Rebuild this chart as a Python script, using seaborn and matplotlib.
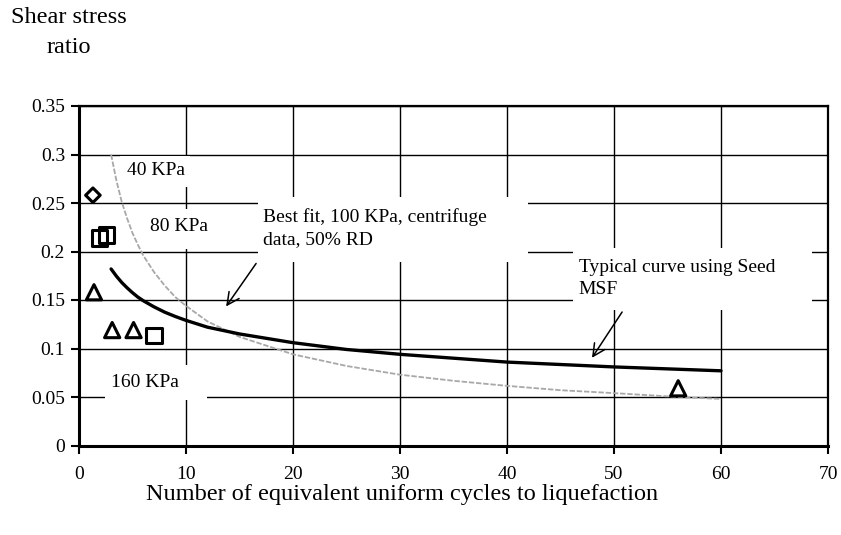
import matplotlib
matplotlib.use("Agg")
import matplotlib.pyplot as plt
from matplotlib.patches import Rectangle
import seaborn as sns
import pandas as pd

# ---- data ----
diamond_x = [1.3]
diamond_y = [0.258]
square_x = [1.9, 2.6, 7.0]
square_y = [0.214, 0.217, 0.113]
triangle_x = [1.4, 3.1, 5.1, 56.0]
triangle_y = [0.158, 0.119, 0.119, 0.059]

fit_x = [3.0, 3.5, 4, 4.5, 5, 5.5, 6, 7, 8, 9, 10, 12, 15, 20, 25, 30, 35, 40, 45, 50, 55, 60]
fit_y = [0.182, 0.1745, 0.168, 0.1625, 0.1575, 0.153, 0.1493, 0.143, 0.1375, 0.133, 0.129, 0.122,
         0.115, 0.106, 0.099, 0.094, 0.090, 0.086, 0.0835, 0.081, 0.079, 0.077]

seed_x = [3, 3.5, 4, 4.5, 5, 5.5, 6, 7, 8, 9, 10, 12, 15, 20, 25, 30, 35, 40, 45, 50, 56, 60]
seed_y = [0.300, 0.273, 0.251, 0.234, 0.219, 0.207, 0.196, 0.179, 0.165, 0.153, 0.144, 0.128,
          0.112, 0.094, 0.082, 0.073, 0.0667, 0.0615, 0.057, 0.054, 0.050, 0.048]

x_ticks = [0, 10, 20, 30, 40, 50, 60, 70]
y_ticks = [0, 0.05, 0.1, 0.15, 0.2, 0.25, 0.3, 0.35]
y_tick_labels = ["0", "0.05", "0.1", "0.15", "0.2", "0.25", "0.3", "0.35"]

sns.set_theme(style="ticks")
plt.rcParams["font.family"] = ["Liberation Serif", "DejaVu Serif"]

fig = plt.figure(figsize=(8.41, 5.35), dpi=100)
ax = fig.add_axes([79 / 841, 1 - 445.5 / 535, 749 / 841, 339.5 / 535])

fit_df = pd.DataFrame({"x": fit_x, "y": fit_y})
seed_df = pd.DataFrame({"x": seed_x, "y": seed_y})

sns.lineplot(data=seed_df, x="x", y="y", ax=ax, color="#a8a8a8", lw=1.3,
             linestyle=(0, (3, 1)), zorder=3)
sns.lineplot(data=fit_df, x="x", y="y", ax=ax, color="black", lw=2.4, zorder=4)

mk = dict(facecolor="none", edgecolor="black", linewidth=2.2, zorder=5)
sns.scatterplot(x=diamond_x, y=diamond_y, ax=ax, marker="D", s=55, **mk)
sns.scatterplot(x=square_x, y=square_y, ax=ax, marker="s", s=120, **mk)
sns.scatterplot(x=triangle_x, y=triangle_y, ax=ax, marker="^", s=120, **mk)

ax.set_xlim(0, 70)
ax.set_ylim(0, 0.35)
ax.set_xticks(x_ticks)
ax.set_xticklabels([str(t) for t in x_ticks])
ax.set_yticks(y_ticks)
ax.set_yticklabels(y_tick_labels)
ax.tick_params(axis="both", labelsize=14, direction="out", length=6, width=1.5,
               color="black", labelcolor="black")
ax.tick_params(axis="x", pad=9)
ax.tick_params(axis="y", pad=4)

ax.set_axisbelow(True)
ax.grid(True, color="black", linewidth=1.0)
for side in ["left", "bottom"]:
    ax.spines[side].set_linewidth(2.2)
    ax.spines[side].set_color("black")
for side in ["top", "right"]:
    ax.spines[side].set_linewidth(1.6)
    ax.spines[side].set_color("black")
    ax.spines[side].set_visible(True)

ax.set_xlabel("Number of equivalent uniform cycles to liquefaction", fontsize=17.5,
              color="black")
ax.xaxis.set_label_coords((402 - 79) / 749, -0.112)
ax.set_ylabel("")

# white text boxes (Excel-style) that hide the grid behind the labels
for (x0, x1, y0, y1) in [(3.83, 10.4, 0.2665, 0.2985),
                         (5.98, 12.6, 0.2025, 0.2435),
                         (2.43, 11.96, 0.0469, 0.083),
                         (16.73, 41.96, 0.1892, 0.2562),
                         (46.17, 68.5, 0.1397, 0.2036)]:
    ax.add_patch(Rectangle((x0, y0), x1 - x0, y1 - y0, facecolor="white",
                           edgecolor="none", zorder=2.4))

txt = dict(fontsize=14, ha="left", va="center", color="black", zorder=2.5)
ax.text(4.5, 0.284, "40 KPa", **txt)
ax.text(6.6, 0.2253, "80 KPa", **txt)
ax.text(2.96, 0.0647, "160 KPa", **txt)
ax.text(17.17, 0.224, "Best fit, 100 KPa, centrifuge\ndata, 50% RD", linespacing=1.35, **txt)
ax.text(46.7, 0.172, "Typical curve using Seed\nMSF", linespacing=1.35, **txt)

arrow = dict(arrowstyle="->", lw=1.1, color="black", mutation_scale=22)
ax.annotate("", xy=(13.6, 0.141), xytext=(16.7, 0.19), arrowprops=arrow, zorder=6)
ax.annotate("", xy=(47.8, 0.088), xytext=(50.9, 0.140), arrowprops=arrow, zorder=6)

fig.text(69 / 841, 1 - 32.5 / 535, "Shear stress\nratio", fontsize=17.5, ha="center",
         va="center", linespacing=1.55, color="black")

fig.savefig("out.png", dpi=100)
